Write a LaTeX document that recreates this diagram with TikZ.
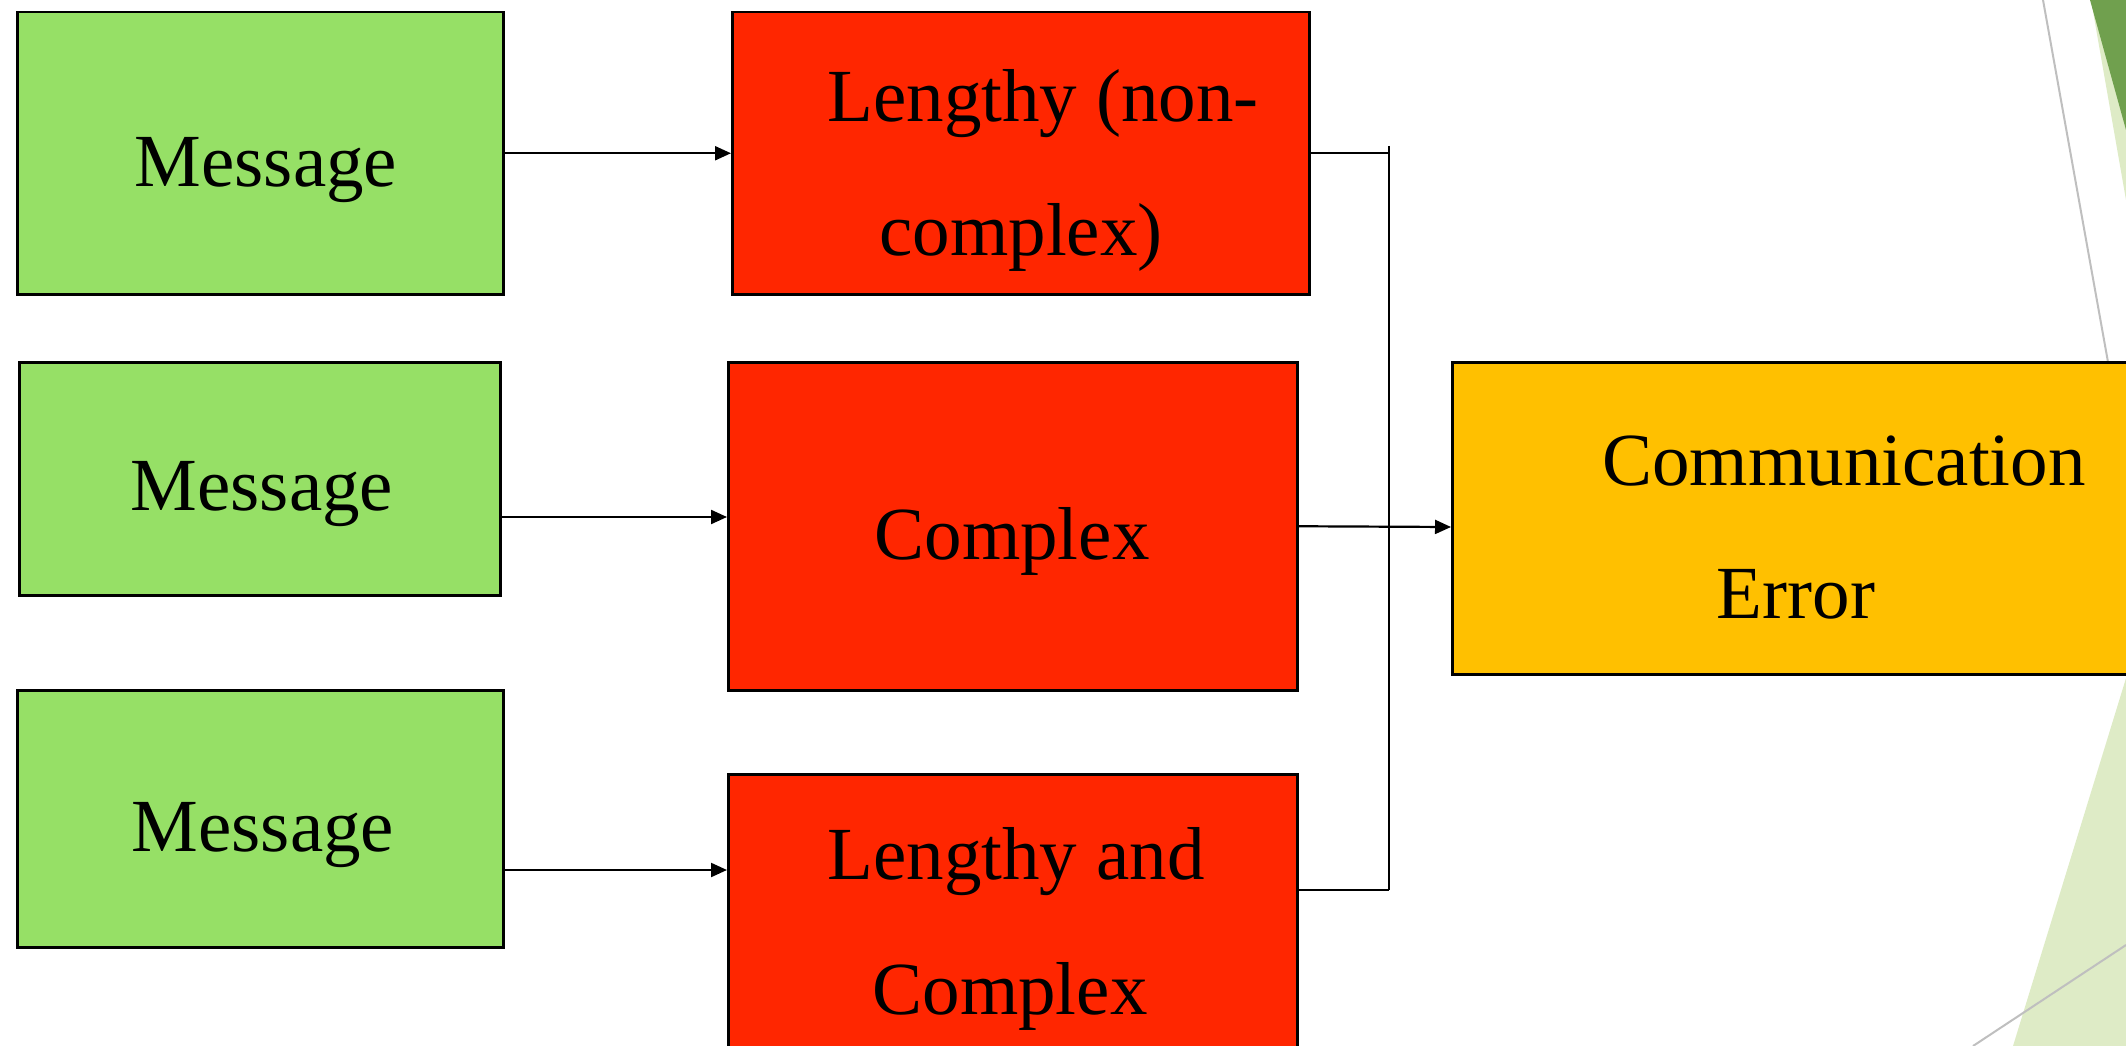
\documentclass[tikz,border=0pt]{standalone}
\usepackage{fontspec}
\setmainfont{Liberation Serif}
\usetikzlibrary{arrows.meta}
\definecolor{boxgreen}{HTML}{96E066}
\definecolor{boxred}{HTML}{FF2600}
\definecolor{boxorange}{HTML}{FFC000}
\definecolor{decolight}{HTML}{DEEBC6}
\definecolor{decodark}{HTML}{70A04E}
\definecolor{decogray}{HTML}{BFBFBF}
\begin{document}
\begin{tikzpicture}[x=1pt,y=-1pt,
  box/.style={draw=black,line width=2.5pt,rectangle,inner sep=0pt,anchor=north west},
  greenbox/.style={box,fill=boxgreen},
  redbox/.style={box,fill=boxred},
  orangebox/.style={box,fill=boxorange},
  txt/.style={anchor=base,inner sep=0pt,font=\fontsize{75}{90}\selectfont},
  conn/.style={draw=black,line width=2.2pt},
  arr/.style={conn,-{Triangle[length=16pt,width=14pt]}},
  decoline/.style={draw=decogray,line width=2pt}]
\useasboundingbox (0,0) rectangle (2126,1046);
\clip (0,0) rectangle (2126,1046);
% decorations
\fill[decolight] (2091,0) -- (2126,200) -- (2126,0) -- cycle;
\fill[decodark] (2090,0) -- (2126,130) -- (2126,0) -- cycle;
\draw[decoline] (2043,0) -- (2113,390);
\fill[decolight] (2150,600) -- (2013,1046) -- (2150,1046) -- cycle;
\draw[decoline] (1973,1046) -- (2126,945);
% boxes
\node[greenbox,minimum width=486pt,minimum height=282pt] (g1) at (16,11) {};
\node[greenbox,minimum width=481pt,minimum height=233pt] (g2) at (18,361) {};
\node[greenbox,minimum width=486pt,minimum height=257pt] (g3) at (16,689) {};
\node[redbox,minimum width=577pt,minimum height=282pt] (r1) at (731,11) {};
\node[redbox,minimum width=569pt,minimum height=328pt] (r2) at (727,361) {};
\node[redbox,minimum width=569pt,minimum height=300pt] (r3) at (727,773) {};
\node[orangebox,minimum width=700pt,minimum height=312pt] (o) at (1451,361) {};
% texts
\node[txt] (g1t) at (266,186) {Message};
\node[txt] (g2t) at (262,510) {Message};
\node[txt] (g3t) at (263,851) {Message};
\node[txt] (r1a) at (1043,122) {Lengthy (non-};
\node[txt] (r1b) at (1021,255) {complex)};
\node[txt] (r2t) at (1012,559) {Complex};
\node[txt] (r3a) at (1016,879) {Lengthy and};
\node[txt] (r3b) at (1010,1014) {Complex};
\node[txt] (oa) at (1844,485) {Communication};
\node[txt] (ob) at (1796,618) {Error};
% connectors
\coordinate (jt) at (1389,146);
\coordinate (jb) at (1389,890);
\draw[arr] (g1.east) -- (g1.east -| r1.west);
\draw[arr] (g2.east |- 0,517) -- (r2.west |- 0,517);
\draw[arr] (g3.east |- 0,870) -- (r3.west |- 0,870);
\draw[conn] (jt) -- (jb);
\draw[conn] (r1.east) -- (r1.east -| jt);
\draw[conn] (r3.east |- jb) -- (jb);
\draw[arr] (r2.east) -- (o.west |- 0,527);
\end{tikzpicture}
\end{document}
